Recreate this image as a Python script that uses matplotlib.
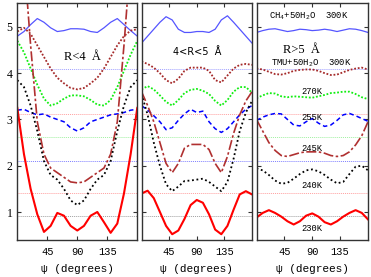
import matplotlib
matplotlib.use("Agg")
import matplotlib.pyplot as plt
import numpy as np

plt.rcParams["mathtext.fontset"] = "custom"
plt.rcParams["mathtext.rm"] = "Liberation Mono"
plt.rcParams["mathtext.it"] = "Liberation Mono"

# psi grid (degrees) shared by all curves
psi = [0, 10, 20, 30, 40, 50, 60, 70, 80, 90, 100, 110, 120, 130, 140, 150, 160, 170, 180]

# panel 1: R < 4 A
p1_ch4 = [4.80, 4.90, 5.05, 5.18, 5.10, 4.98, 4.90, 4.92, 4.96, 4.96, 4.95, 4.90, 4.88, 4.98, 5.10, 5.18, 5.05, 4.92, 4.80]
p1_300 = [4.90, 4.98, 4.85, 4.60, 4.35, 4.10, 3.90, 3.78, 3.68, 3.65, 3.68, 3.78, 3.90, 4.10, 4.35, 4.60, 4.80, 4.92, 4.95]
p1_270 = [4.70, 4.45, 4.10, 3.75, 3.45, 3.30, 3.35, 3.45, 3.52, 3.52, 3.50, 3.42, 3.32, 3.30, 3.42, 3.70, 4.05, 4.40, 4.70]
p1_255 = [3.20, 3.22, 3.15, 3.10, 3.12, 3.05, 3.00, 2.95, 2.82, 2.75, 2.82, 2.95, 3.00, 3.05, 3.10, 3.12, 3.15, 3.20, 3.22]
p1_245 = [8.00, 6.50, 4.60, 2.95, 2.25, 1.95, 1.85, 1.75, 1.65, 1.63, 1.65, 1.75, 1.85, 1.95, 2.25, 2.95, 4.60, 6.50, 8.00]
p1_240 = [3.85, 3.70, 3.30, 2.75, 2.10, 1.80, 1.70, 1.50, 1.25, 1.15, 1.25, 1.50, 1.70, 1.80, 2.10, 2.75, 3.30, 3.70, 3.85]
p1_230 = [3.25, 2.25, 1.50, 0.95, 0.57, 0.70, 0.98, 0.92, 0.70, 0.60, 0.70, 0.92, 1.00, 0.78, 0.55, 0.75, 1.40, 2.25, 3.25]

# panel 2: 4 < R < 5 A
p2_ch4 = [4.65, 4.80, 4.95, 5.10, 5.22, 5.15, 4.95, 4.88, 4.88, 4.90, 4.90, 4.88, 4.95, 5.15, 5.24, 5.10, 4.95, 4.80, 4.65]
p2_300 = [4.25, 4.20, 4.12, 4.00, 3.85, 3.78, 3.88, 4.05, 4.12, 4.12, 4.12, 4.05, 3.85, 3.80, 3.95, 4.10, 4.18, 4.20, 4.18]
p2_270 = [3.65, 3.72, 3.65, 3.52, 3.38, 3.30, 3.42, 3.57, 3.64, 3.66, 3.62, 3.55, 3.40, 3.30, 3.42, 3.60, 3.70, 3.70, 3.58]
p2_255 = [3.30, 3.20, 3.08, 2.95, 2.78, 2.82, 2.98, 3.12, 3.22, 3.15, 3.18, 2.95, 2.80, 2.72, 2.80, 2.95, 3.10, 3.22, 3.30]
p2_245 = [3.60, 3.30, 2.95, 2.50, 2.05, 1.85, 2.05, 2.38, 2.46, 2.46, 2.46, 2.35, 2.05, 1.85, 2.20, 2.70, 3.10, 3.40, 3.60]
p2_240 = [3.55, 3.10, 2.50, 2.00, 1.60, 1.45, 1.55, 1.67, 1.68, 1.70, 1.72, 1.65, 1.55, 1.45, 1.65, 2.15, 2.75, 3.15, 3.40]
p2_230 = [1.40, 1.46, 1.30, 1.00, 0.70, 0.52, 0.60, 0.85, 1.15, 1.26, 1.20, 0.95, 0.62, 0.52, 0.70, 1.05, 1.38, 1.45, 1.38]

# panel 3: R > 5 A
p3_ch4 = [4.88, 4.92, 4.95, 4.96, 4.93, 4.90, 4.92, 4.95, 4.94, 4.92, 4.93, 4.95, 4.93, 4.90, 4.93, 4.96, 4.95, 4.92, 4.88]
p3_300 = [4.10, 4.08, 4.03, 3.98, 3.97, 4.00, 4.05, 4.07, 4.08, 4.08, 4.05, 4.00, 3.96, 3.97, 4.02, 4.07, 4.10, 4.12, 4.08]
p3_270 = [3.46, 3.52, 3.57, 3.56, 3.50, 3.48, 3.50, 3.49, 3.48, 3.47, 3.50, 3.53, 3.57, 3.58, 3.60, 3.60, 3.55, 3.48, 3.44]
p3_255 = [2.98, 3.05, 3.10, 3.13, 3.12, 3.00, 2.88, 2.86, 2.95, 3.02, 2.92, 2.85, 2.88, 2.98, 3.10, 3.13, 3.08, 3.02, 2.96]
p3_245 = [3.00, 2.75, 2.50, 2.33, 2.22, 2.20, 2.24, 2.28, 2.30, 2.30, 2.30, 2.27, 2.22, 2.20, 2.22, 2.30, 2.45, 2.65, 2.95]
p3_240 = [1.94, 1.90, 1.80, 1.68, 1.61, 1.63, 1.72, 1.82, 1.90, 1.92, 1.88, 1.80, 1.70, 1.62, 1.65, 1.82, 1.98, 2.00, 1.90]
p3_230 = [0.88, 0.98, 1.04, 0.98, 0.90, 0.80, 0.73, 0.80, 0.92, 0.97, 0.90, 0.78, 0.73, 0.80, 0.90, 0.98, 1.04, 0.98, 0.84]

# dotted baselines
base_levels = [4.10, 3.12, 2.61, 2.11, 1.42, 0.91]
base_colors = ["#a0a0ff", "#ffa0a0", "#a0f0a0", "#8080ff", "#ffa0a0", "#a0a0a0"]

panel_titles = ["R<4  Å", "4<R<5  Å", "R>5  Å"]
temp_labels = ["270K", "255K", "245K", "240K", "230K"]
temp_label_y = [3.60, 3.05, 2.38, 1.58, 0.65]

styles = [
    dict(color="#5555ff", lw=0.9, ls="-"),
    dict(color="#a52a2a", lw=1.3, ls=(0, (1, 1))),
    dict(color="#11ee11", lw=1.3, ls=(0, (1, 1))),
    dict(color="#0000ff", lw=1.1, ls=(0, (3, 2))),
    dict(color="#b03030", lw=1.2, ls=(0, (6, 1.5, 1.5, 1.5))),
    dict(color="black", lw=1.3, ls=(0, (1, 1.5))),
    dict(color="#ff0000", lw=1.5, ls="-"),
]

panels = [
    [p1_ch4, p1_300, p1_270, p1_255, p1_245, p1_240, p1_230],
    [p2_ch4, p2_300, p2_270, p2_255, p2_245, p2_240, p2_230],
    [p3_ch4, p3_300, p3_270, p3_255, p3_245, p3_240, p3_230],
]

W, H = 371, 277
fig = plt.figure(figsize=(W / 100, H / 100), dpi=100)
fig.patch.set_facecolor("white")

# axes boxes in pixels: (left, right)
boxes = [(17.3, 137.3), (141.5, 252.0), (256.5, 368.0)]
top, bot = 3.3, 240.0

mono = "Liberation Mono"
serif = "Liberation Serif"

for i, (x0, x1) in enumerate(boxes):
    ax = fig.add_axes([x0 / W, (H - bot) / H, (x1 - x0) / W, (bot - top) / H])
    for lev, c in zip(base_levels, base_colors):
        ax.axhline(lev, color=c, lw=0.7, ls=(0, (1, 1)), zorder=1)
    for ys, st in zip(panels[i], styles):
        ax.plot(psi, ys, zorder=2, **st)
    ax.set_xlim(0, 180)
    ax.set_ylim(0.395, 5.51)
    ax.set_xticks([45, 90, 135])
    ax.set_yticks([1, 2, 3, 4, 5])
    ax.tick_params(direction="in", length=3, width=0.8, top=True, right=True,
                   colors="#333333", labelsize=7.5)
    ax.tick_params(axis="x", pad=5)
    for lab in ax.get_xticklabels():
        lab.set_fontfamily(mono)
        lab.set_color("black")
    if i == 0:
        for lab in ax.get_yticklabels():
            lab.set_fontfamily(serif)
            lab.set_fontsize(8.5)
            lab.set_color("black")
    else:
        ax.set_yticklabels([])
    for sp in ax.spines.values():
        sp.set_color("#333333")
        sp.set_linewidth(1.0)
    ax.set_xlabel("ψ (degrees)", family=mono, fontsize=8, labelpad=5)

    if i == 0:
        ax.text(98, 4.35, panel_titles[0], family=serif, fontsize=9, ha="center", va="center")
    elif i == 1:
        ax.text(90, 4.46, panel_titles[1], family="DejaVu Sans", fontsize=7, ha="center", va="center")
    else:
        ax.text(73, 4.50, panel_titles[2], family=serif, fontsize=9, ha="center", va="center")
        ax.text(85, 5.22, "CH$_4$+50H$_2$O  300K", family=mono, fontsize=6.4,
                ha="center", va="center")
        ax.text(89, 4.22, "TMU+50H$_2$O  300K", family=mono, fontsize=6.4,
                ha="center", va="center")
        for t, ty in zip(temp_labels, temp_label_y):
            ax.text(89, ty, t, family=mono, fontsize=6.3, ha="center", va="center")

fig.savefig("out.png", dpi=100)
